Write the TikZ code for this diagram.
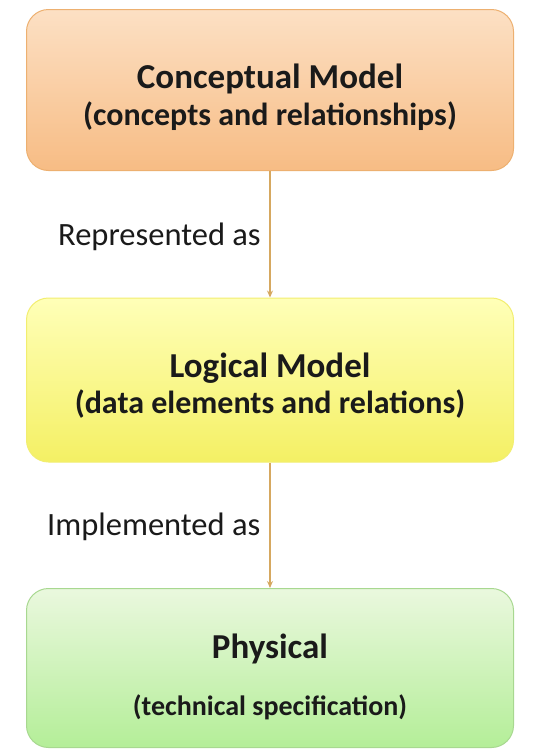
\documentclass[tikz,border=0pt]{standalone}
\usepackage{fontspec}
\setmainfont{Carlito}
\usetikzlibrary{arrows.meta}
\definecolor{peachTop}{HTML}{FCE0C4}
\definecolor{peachBot}{HTML}{F7BC84}
\definecolor{peachLine}{HTML}{EDB070}
\definecolor{lemonTop}{HTML}{FFFFB8}
\definecolor{lemonBot}{HTML}{F4F064}
\definecolor{lemonLine}{HTML}{F2EE70}
\definecolor{mintTop}{HTML}{EAF8DE}
\definecolor{mintBot}{HTML}{B4EE98}
\definecolor{mintLine}{HTML}{A8D890}
\definecolor{linkColor}{HTML}{D6A860}
\definecolor{inkColor}{HTML}{1A1A1A}
\tikzset{
  modelbox/.style={rounded corners=22pt, minimum width=487pt, line width=1pt, inner sep=0pt},
  boxtext/.style={anchor=base, text=inkColor, inner sep=0pt, font=\bfseries\fontsize{#1}{#1}\selectfont},
  caption/.style={font=\fontsize{32.5}{33}\selectfont, text=inkColor, anchor=base west, inner sep=0pt},
  link/.style={draw=linkColor, line width=1.2pt, -{Stealth[length=7pt,width=6pt]}}
}
\begin{document}
\begin{tikzpicture}[x=1pt,y=-1pt]
  \useasboundingbox[fill=white] (0,0) rectangle (539,750);
  % the three model boxes
  \node[modelbox, minimum height=161pt, top color=peachTop, bottom color=peachBot, draw=peachLine] (concept) at (270,90) {};
  \node[modelbox, minimum height=164pt, top color=lemonTop, bottom color=lemonBot, draw=lemonLine] (logical) at (270,380) {};
  \node[modelbox, minimum height=159pt, top color=mintTop, bottom color=mintBot, draw=mintLine] (physical) at (270,668) {};
  % box texts, placed by baseline
  \node[boxtext=35] (conceptTitle) at (270,88) {Conceptual Model};
  \node[boxtext=32] (conceptSub) at (270,125) {(concepts and relationships)};
  \node[boxtext=35] (logicalTitle) at (270,377) {Logical Model};
  \node[boxtext=32] (logicalSub) at (270,413) {(data elements and relations)};
  \node[boxtext=35] (physicalTitle) at (270,658) {Physical};
  \node[boxtext=28] (physicalSub) at (270,715) {(technical specification)};
  % connectors
  \draw[link] (concept.south) -- (logical.north);
  \draw[link] (logical.south) -- (physical.north);
  \node[caption] (represented) at (58,245) {Represented as};
  \node[caption] (implemented) at (47,535) {Implemented as};
\end{tikzpicture}
\end{document}
